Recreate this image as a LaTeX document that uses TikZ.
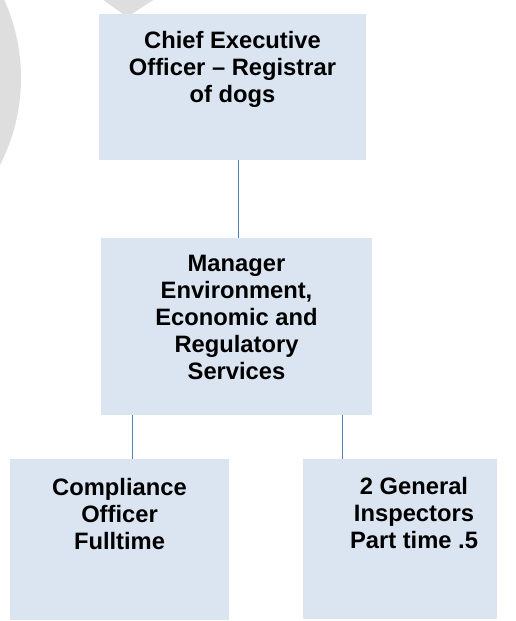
\documentclass[tikz,border=0pt]{standalone}
\usepackage{fontspec}
\setmainfont{Liberation Sans}
\usetikzlibrary{calc}

\definecolor{boxfill}{HTML}{DBE5F1}
\definecolor{linkblue}{HTML}{4F81BD}
\definecolor{markgrey}{HTML}{DEDEDE}

\tikzset{
    unit/.style={fill=boxfill, draw=none, inner sep=0pt, outer sep=0pt},
    title/.style={anchor=north, inner sep=0pt, align=center,
        font=\fontsize{17.8}{20.3}\selectfont\bfseries},
    link/.style={draw=linkblue, line width=1.1pt},
}

\begin{document}
\begin{tikzpicture}[x=0.75pt, y=-0.75pt]
    \useasboundingbox (0,0) rectangle (516,621);

    % grey watermark behind the chart
    \fill[markgrey] (-169,78) circle (142.5pt);
    \fill[markgrey, rounded corners=4pt] (99,-3) -- (127,17) -- (158,-3) -- cycle;

    \node[unit, minimum width=200.25pt, minimum height=109.5pt] (ceo) at (232.5,87) {};
    \node[title] (ceo-t) at ($(ceo.north)+(0,17)$) {Chief Executive\\Officer -- Registrar\\of dogs};

    \node[unit, minimum width=203.25pt, minimum height=132.75pt] (mgr) at (236.5,326.5) {};
    \node[title] (mgr-t) at ($(mgr.north)+(0,17)$) {Manager\\Environment,\\Economic and\\Regulatory\\Services};

    \node[unit, minimum width=164.25pt, minimum height=120.75pt] (cmp) at (119.5,539.5) {};
    \node[title] (cmp-t) at ($(cmp.north)+(0,19)$) {Compliance\\Officer\\Fulltime};

    \node[unit, minimum width=145.5pt, minimum height=120pt] (gi) at (400,539) {};
    \node[title] (gi-t) at ($(gi.north)+(14,18)$) {2 General\\Inspectors\\Part time .5};

    % connectors
    \draw[link] ($(ceo.south)+(6.2,0)$) -- ($(mgr.north)+(2.2,0)$);
    \draw[link] ($(mgr.south -| cmp.north)+(12.8,0)$) -- ($(cmp.north)+(12.8,0)$);
    \draw[link] ($(mgr.south -| gi.north)+(-57.3,0)$) -- ($(gi.north)+(-57.3,0)$);
\end{tikzpicture}
\end{document}
